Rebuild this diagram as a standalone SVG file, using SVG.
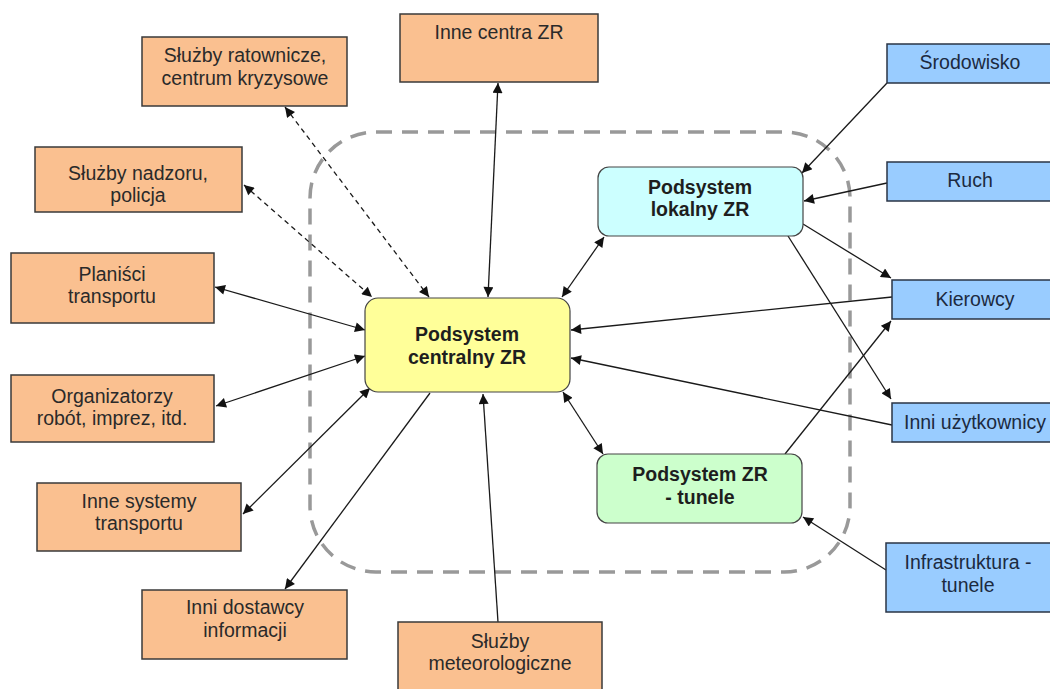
<svg xmlns="http://www.w3.org/2000/svg" width="1050" height="689" viewBox="0 0 1050 689">
<style>
.org{fill:#FAC090;stroke:#3a3a3a;stroke-width:1.5}
.blu{fill:#99CCFF;stroke:#2a3445;stroke-width:1.5}
.cen{fill:#FFFF99;stroke:#444;stroke-width:1.2}
.lok{fill:#CCFFFF;stroke:#444;stroke-width:1.2}
.tun{fill:#CCFFCC;stroke:#444;stroke-width:1.2}
text{font-family:"Liberation Sans",Arial,sans-serif;font-size:19.5px;text-anchor:middle;fill:#2a2a2a}
.b{font-weight:bold;fill:#1e1e1e}
.bt{fill:#1c2a40}
.c{stroke:#1a1a1a;stroke-width:1.3;fill:none}
.d{stroke-dasharray:5 4}
.both{marker-start:url(#ah);marker-end:url(#ah)}
.end{marker-end:url(#ah)}
</style>
<defs>
<marker id="ah" viewBox="0 0 10 10" refX="10" refY="5" markerWidth="12" markerHeight="10" markerUnits="userSpaceOnUse" orient="auto-start-reverse">
<path d="M0,0 L10,5 L0,10 z" fill="#111"/>
</marker>
</defs>
<rect x="0" y="0" width="1050" height="689" fill="#fff"/>
<rect id="boundary" x="310" y="132" width="540" height="440" rx="66" fill="none" stroke="#999" stroke-width="3.5" stroke-dasharray="16 10"/>
<g id="connectors">
<line class="c d both" x1="285" y1="107" x2="429" y2="297"/>
<line class="c d both" x1="244" y1="185" x2="372" y2="297"/>
<line class="c both" x1="498" y1="83" x2="488" y2="297"/>
<line class="c both" x1="215" y1="287" x2="365" y2="330"/>
<line class="c both" x1="216" y1="406" x2="365" y2="356"/>
<line class="c both" x1="243" y1="514" x2="370" y2="388"/>
<line class="c end" x1="430" y1="393" x2="285" y2="589"/>
<line class="c end" x1="498" y1="622" x2="483" y2="394"/>
<line class="c both" x1="562" y1="297" x2="604" y2="237"/>
<line class="c both" x1="563" y1="392" x2="603" y2="454"/>
<line class="c end" x1="892" y1="297" x2="571" y2="330"/>
<line class="c end" x1="892" y1="425" x2="571" y2="358"/>
<line class="c end" x1="887" y1="83" x2="802" y2="173"/>
<line class="c end" x1="887" y1="183" x2="804" y2="201"/>
<line class="c end" x1="803" y1="224" x2="891" y2="278"/>
<line class="c end" x1="788" y1="236" x2="891" y2="399"/>
<line class="c end" x1="785" y1="454" x2="891" y2="321"/>
<line class="c end" x1="886" y1="570" x2="803" y2="517"/>
</g>
<g id="n-ratownicze"><rect class="org" x="142" y="37" width="205" height="69"/><text x="245" y="62">Służby ratownicze,</text><text x="245" y="85">centrum kryzysowe</text></g>
<g id="n-innecentra"><rect class="org" x="400" y="14" width="198" height="68"/><text x="499" y="39">Inne centra ZR</text></g>
<g id="n-nadzoru"><rect class="org" x="35" y="147" width="207" height="65"/><text x="138" y="180">Służby nadzoru,</text><text x="138" y="202">policja</text></g>
<g id="n-planisci"><rect class="org" x="11" y="253" width="203" height="70"/><text x="112" y="281">Planiści</text><text x="112" y="303">transportu</text></g>
<g id="n-organizatorzy"><rect class="org" x="11" y="375" width="203" height="67"/><text x="112" y="403">Organizatorzy</text><text x="112" y="425">robót, imprez, itd.</text></g>
<g id="n-innesystemy"><rect class="org" x="37" y="483" width="204" height="68"/><text x="139" y="508">Inne systemy</text><text x="139" y="530">transportu</text></g>
<g id="n-dostawcy"><rect class="org" x="142" y="590" width="205" height="69"/><text x="245" y="614">Inni dostawcy</text><text x="245" y="637">informacji</text></g>
<g id="n-meteo"><rect class="org" x="398" y="622" width="204" height="75"/><text x="500" y="648">Służby</text><text x="500" y="670">meteorologiczne</text></g>
<g id="n-centralny"><rect class="cen" x="365" y="298" width="205" height="94" rx="13"/><text class="b" x="467" y="341">Podsystem</text><text class="b" x="467" y="364">centralny ZR</text></g>
<g id="n-lokalny"><rect class="lok" x="598" y="167" width="205" height="69" rx="11"/><text class="b" x="700" y="194">Podsystem</text><text class="b" x="700" y="216">lokalny ZR</text></g>
<g id="n-tunele"><rect class="tun" x="597" y="454" width="205" height="69" rx="11"/><text class="b" x="700" y="481">Podsystem ZR</text><text class="b" x="700" y="504">- tunele</text></g>
<g id="n-srodowisko"><rect class="blu" x="887" y="44" width="170" height="39"/><text class="bt" x="970" y="69">Środowisko</text></g>
<g id="n-ruch"><rect class="blu" x="887" y="162" width="170" height="39"/><text class="bt" x="970" y="187">Ruch</text></g>
<g id="n-kierowcy"><rect class="blu" x="892" y="280" width="165" height="39"/><text class="bt" x="975" y="306">Kierowcy</text></g>
<g id="n-uzytkownicy"><rect class="blu" x="892" y="403" width="165" height="39"/><text class="bt" x="975" y="429">Inni użytkownicy</text></g>
<g id="n-infrastruktura"><rect class="blu" x="886" y="543" width="170" height="69"/><text class="bt" x="968" y="569">Infrastruktura -</text><text class="bt" x="968" y="592">tunele</text></g>
</svg>
